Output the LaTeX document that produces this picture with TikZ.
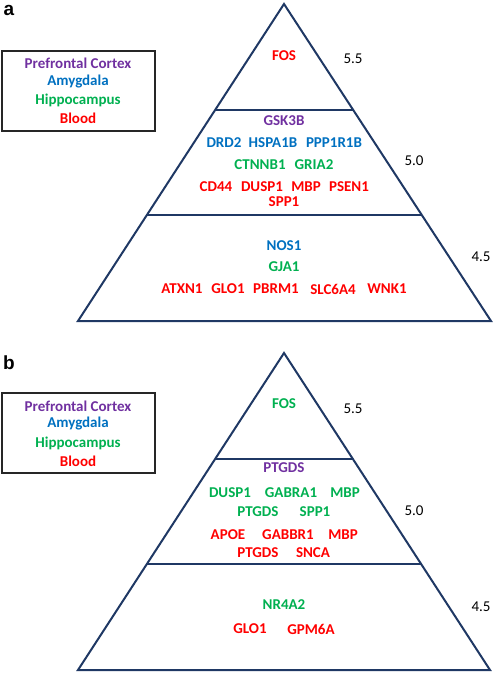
\documentclass[tikz,border=0pt]{standalone}
\usepackage{fontspec}
\setmainfont{Carlito}
\newfontfamily\labfont{Liberation Sans}
\usetikzlibrary{calc}
\definecolor{cpur}{HTML}{7030A0}
\definecolor{cblu}{HTML}{0070C0}
\definecolor{cgrn}{HTML}{00B050}
\definecolor{cred}{HTML}{FF0000}
\definecolor{cnav}{HTML}{1F3864}
\tikzset{
  gene/.style={inner sep=0pt, font=\fontsize{15}{16}\selectfont\bfseries},
  pur/.style={gene, text=cpur},
  blu/.style={gene, text=cblu},
  grn/.style={gene, text=cgrn},
  rd/.style={gene, text=cred},
  lvl/.style={inner sep=0pt, font=\fontsize{15}{16}\selectfont, text=black},
  panel/.style={inner sep=0pt, font=\labfont\fontsize{19}{20}\selectfont\bfseries},
  pyr/.style={draw=cnav, line width=2pt, line join=miter},
  legbox/.style={draw=black!85, line width=1.6pt},
}
\begin{document}
\begin{tikzpicture}[x=1pt,y=-1pt]
\useasboundingbox (0,0) rectangle (493,676);
% ---------------- panel a ----------------
\node[panel] (la) at (9,10) {a};
\coordinate (aA) at (284,4);
\coordinate (aL) at (78,321);
\coordinate (aR) at (491,321);
\draw[pyr] (aA) -- (aR) -- (aL) -- cycle;
\coordinate (a1l) at ($(aA)!0.333!(aL)$);
\coordinate (a1r) at ($(aA)!0.333!(aR)$);
\coordinate (a2l) at ($(aA)!0.667!(aL)$);
\coordinate (a2r) at ($(aA)!0.667!(aR)$);
\draw[pyr] (a1l) -- (a1r);
\draw[pyr] (a2l) -- (a2r);
\coordinate (aBox1) at (2,51);
\coordinate (aBox2) at (155,131);
\draw[legbox] (aBox1) rectangle (aBox2);
\node[pur] (aLp) at (78,63) {Prefrontal Cortex};
\node[blu] (aLa) at (78,82) {Amygdala};
\node[grn] (aLh) at (78,100) {Hippocampus};
\node[rd]  (aLb) at (78,118) {Blood};
\node[lvl] (a55) at (353,59) {5.5};
\node[lvl] (a50) at (414,161) {5.0};
\node[lvl] (a45) at (481,257) {4.5};
\node[rd]  (aFOS) at (284,56) {FOS};
\node[pur] (aGSK) at (284,121) {GSK3B};
\node[blu] (aDRD) at (224,143) {DRD2};
\node[blu] (aHSP) at (273,143) {HSPA1B};
\node[blu] (aPPP) at (334,143) {PPP1R1B};
\node[grn] (aCTN) at (260,165) {CTNNB1};
\node[grn] (aGRI) at (314,165) {GRIA2};
\node[rd]  (aCD4) at (216,187) {CD44};
\node[rd]  (aDUS) at (262,187) {DUSP1};
\node[rd]  (aMBP) at (306,187) {MBP};
\node[rd]  (aPSE) at (349,187) {PSEN1};
\node[rd]  (aSPP) at (284,202) {SPP1};
\node[blu] (aNOS) at (284,246) {NOS1};
\node[grn] (aGJA) at (284,267) {GJA1};
\node[rd]  (aATX) at (182,289) {ATXN1};
\node[rd]  (aGLO) at (228,289) {GLO1};
\node[rd]  (aPBR) at (276,289) {PBRM1};
\node[rd]  (aSLC) at (333,289) {SLC6A4};
\node[rd]  (aWNK) at (387,289) {WNK1};
% ---------------- panel b ----------------
\node[panel] (lb) at (9,363) {b};
\coordinate (bA) at (284,353);
\coordinate (bL) at (78,670);
\coordinate (bR) at (490,670);
\draw[pyr] (bA) -- (bR) -- (bL) -- cycle;
\coordinate (b1l) at ($(bA)!0.333!(bL)$);
\coordinate (b1r) at ($(bA)!0.333!(bR)$);
\coordinate (b2l) at ($(bA)!0.667!(bL)$);
\coordinate (b2r) at ($(bA)!0.667!(bR)$);
\draw[pyr] (b1l) -- (b1r);
\draw[pyr] (b2l) -- (b2r);
\coordinate (bBox1) at (2,393);
\coordinate (bBox2) at (155,473);
\draw[legbox] (bBox1) rectangle (bBox2);
\node[pur] (bLp) at (78,406) {Prefrontal Cortex};
\node[blu] (bLa) at (78,424) {Amygdala};
\node[grn] (bLh) at (78,443) {Hippocampus};
\node[rd]  (bLb) at (78,461) {Blood};
\node[lvl] (b55) at (353,409) {5.5};
\node[lvl] (b50) at (414,511) {5.0};
\node[lvl] (b45) at (481,607) {4.5};
\node[grn] (bFOS) at (284,404) {FOS};
\node[pur] (bPTG) at (284,468) {PTGDS};
\node[grn] (bDUS) at (230,493) {DUSP1};
\node[grn] (bGAB) at (291,493) {GABRA1};
\node[grn] (bMBP) at (345,493) {MBP};
\node[grn] (bPT2) at (258,512) {PTGDS};
\node[grn] (bSPP) at (315,512) {SPP1};
\node[rd]  (bAPO) at (228,535) {APOE};
\node[rd]  (bGBB) at (288,535) {GABBR1};
\node[rd]  (bMB2) at (343,535) {MBP};
\node[rd]  (bPT3) at (258,553) {PTGDS};
\node[rd]  (bSNC) at (313,553) {SNCA};
\node[grn] (bNR4) at (284,605) {NR4A2};
\node[rd]  (bGLO) at (250,629) {GLO1};
\node[rd]  (bGPM) at (311,629) {GPM6A};
\end{tikzpicture}
\end{document}
